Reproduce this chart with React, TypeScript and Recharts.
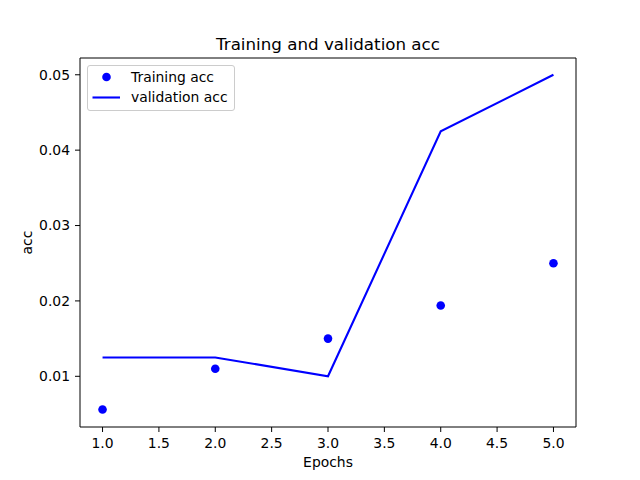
import React from 'react';
import { ComposedChart, Line, XAxis, YAxis, Legend, ReferenceLine } from 'recharts';

const epochs = [1, 2, 3, 4, 5];
const trainingAcc = [0.0056, 0.011, 0.015, 0.0194, 0.025];
const validationAcc = [0.0125, 0.0125, 0.01, 0.0425, 0.05];

const xTicks = [1, 1.5, 2, 2.5, 3, 3.5, 4, 4.5, 5];
const yTicks = [0.01, 0.02, 0.03, 0.04, 0.05];
const xDomain = [0.8, 5.2];
const yDomain = [0.003275, 0.052225];

const BLUE = '#0000ff';
const FONT = '"DejaVu Sans", sans-serif';

const data = epochs.map((e, i) => ({ epoch: e, train: trainingAcc[i], val: validationAcc[i] }));

const tickStyle = { fontSize: 13.9, fill: '#000', fontFamily: FONT };

const LegendBox = () => (
    <div
        style={{
            border: '1px solid #cccccc',
            borderRadius: 3,
            background: 'rgba(255,255,255,0.8)',
            padding: '0.5px 0 2.5px 0',
            width: 146,
            fontFamily: FONT,
            fontSize: 13.9,
            lineHeight: '20.5px',
            color: '#000',
        }}
    >
        <div style={{ display: 'flex', alignItems: 'center', height: 20.5 }}>
            <svg width={28} height={20} style={{ marginLeft: 4, marginRight: 11 }}>
                <circle cx={14.5} cy={10} r={4.3} fill={BLUE} />
            </svg>
            <span>Training acc</span>
        </div>
        <div style={{ display: 'flex', alignItems: 'center', height: 20.5 }}>
            <svg width={28} height={20} style={{ marginLeft: 4, marginRight: 11 }}>
                <line x1={0.5} x2={28.5} y1={10.5} y2={10.5} stroke={BLUE} strokeWidth={2.1} />
            </svg>
            <span>validation acc</span>
        </div>
    </div>
);

export default function App() {
    return (
        <div style={{ position: 'absolute', left: 0, top: 0, width: 640, height: 480, background: '#fff' }}>
            <ComposedChart
                width={640}
                height={480}
                data={data}
                margin={{ top: 58, right: 64, bottom: 0, left: 0 }}
                style={{ fontFamily: FONT }}
            >
                <XAxis
                    dataKey="epoch"
                    type="number"
                    domain={xDomain}
                    ticks={xTicks}
                    tickFormatter={(v: number) => v.toFixed(1)}
                    height={53}
                    tickSize={5}
                    tickMargin={6}
                    stroke="#000"
                    tick={tickStyle}
                    allowDataOverflow
                    label={{ value: 'Epochs', position: 'insideBottom', offset: 13, fill: '#000', fontSize: 13.9, fontFamily: FONT }}
                />
                <YAxis
                    type="number"
                    domain={yDomain}
                    ticks={yTicks}
                    tickFormatter={(v: number) => v.toFixed(2)}
                    width={80}
                    tickSize={5}
                    tickMargin={5}
                    stroke="#000"
                    tick={tickStyle}
                    allowDataOverflow
                    label={{ value: 'acc', angle: -90, position: 'insideLeft', offset: 27.5, fill: '#000', fontSize: 13.9, fontFamily: FONT, style: { textAnchor: 'middle' } }}
                />
                {/* top and right spines */}
                <ReferenceLine
                    y={yDomain[1]}
                    stroke="#000"
                    ifOverflow="extendDomain"
                    label={{ value: 'Training and validation acc', position: 'top', offset: 8, fill: '#000', fontSize: 16.7, fontFamily: FONT }}
                />
                <ReferenceLine x={xDomain[1]} stroke="#000" ifOverflow="extendDomain" />
                <Line
                    dataKey="val"
                    name="validation acc"
                    stroke={BLUE}
                    strokeWidth={2.1}
                    dot={false}
                    activeDot={false}
                    isAnimationActive={false}
                />
                <Line
                    dataKey="train"
                    name="Training acc"
                    stroke="none"
                    dot={{ r: 4.3, fill: BLUE, stroke: 'none' }}
                    activeDot={false}
                    isAnimationActive={false}
                />
                <Legend
                    layout="vertical"
                    align="center"
                    verticalAlign="middle"
                    content={() => <LegendBox />}
                    wrapperStyle={{ left: 87, top: 65, width: 148 }}
                />
            </ComposedChart>
        </div>
    );
}
